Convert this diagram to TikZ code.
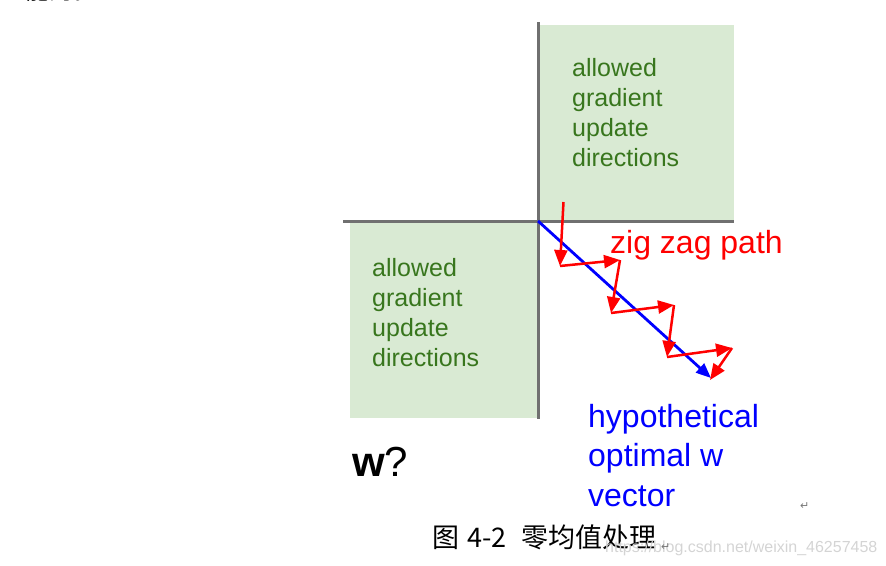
\documentclass[tikz,border=0pt]{standalone}
\usepackage{fontspec}
\setmainfont{Liberation Sans}
\newfontfamily\cjk{Noto Sans CJK SC}
\newfontfamily\dvs{DejaVu Sans}
\usetikzlibrary{arrows.meta}
\definecolor{boxgreen}{RGB}{217,234,211}
\definecolor{txtgreen}{RGB}{56,118,29}
\definecolor{axisgray}{RGB}{112,112,112}
\definecolor{wmgray}{RGB}{212,212,212}
\definecolor{markgray}{RGB}{120,120,120}
\tikzset{
  region/.style={fill=boxgreen, draw=none},
  axisline/.style={draw=axisgray, line width=3pt},
  greentext/.style={text=txtgreen, align=left, inner sep=0pt, anchor=north west, font=\fontsize{25}{30}\selectfont},
  zigarrow/.style={draw=red, line width=2.5pt, -{Triangle[length=16pt,width=13pt]}},
  optarrow/.style={draw=blue, line width=2.8pt, -{Triangle[length=15pt,width=12pt]}},
  retmark/.style={text=markgray, inner sep=0pt, anchor=base west, font=\dvs\fontsize{11}{11}\selectfont}
}
\begin{document}
\begin{tikzpicture}[x=1pt,y=-1pt]
\useasboundingbox (0,0) rectangle (886,565);
% cut-off text at the very top
\begin{scope}
\clip (0,0) rectangle (886,565);
\node[inner sep=0pt, anchor=base west, font=\cjk\fontsize{24}{24}\selectfont] (topfrag) at (25,-0.5) {能的。};
\end{scope}
% green regions
\fill[region] (540,25) rectangle (734,221);
\fill[region] (350,222) rectangle (537,418);
% axes
\coordinate (vtop) at (538,22);
\coordinate (vbot) at (538,419);
\coordinate (hleft) at (343,221);
\coordinate (hright) at (734,221);
\draw[axisline] (vtop) -- (vbot);
\draw[axisline] (hleft) -- (hright);
% texts
\node[greentext] (tr) at (572,58) {allowed\\gradient\\update\\directions};
\node[greentext] (bl) at (372,258) {allowed\\gradient\\update\\directions};
\node[text=red, inner sep=0pt, anchor=base west, font=\fontsize{32}{40}\selectfont] (zz) at (610,253) {zig zag path};
\node[text=blue, inner sep=0pt, anchor=north west, align=left, font=\fontsize{32}{39.5}\selectfont] (hyp) at (588,404) {hypothetical\\optimal w\\vector};
\node[inner sep=0pt, anchor=base west, font=\fontsize{42}{42}\selectfont] (wq) at (352,476) {\textbf{w}?};
% optimal direction
\coordinate (o) at (538,221);
\coordinate (opt) at (711,378);
\draw[optarrow] (o) -- (opt);
% zig zag path
\coordinate (z0) at (563.5,202);
\coordinate (z1) at (560,266);
\coordinate (z2) at (620,260);
\coordinate (z3) at (611,313);
\coordinate (z4) at (674,305);
\coordinate (z5) at (667,357);
\coordinate (z6) at (732,348);
\coordinate (z7) at (710,380);
\draw[zigarrow] (z0) -- (z1);
\draw[zigarrow] (z1) -- (z2);
\draw[zigarrow] (z2) -- (z3);
\draw[zigarrow] (z3) -- (z4);
\draw[zigarrow] (z4) -- (z5);
\draw[zigarrow] (z5) -- (z6);
\draw[zigarrow] (z6) -- (z7);
% caption and marks
\node[inner sep=0pt, anchor=base west, font=\cjk\fontsize{27}{27}\selectfont] (cap) at (432,547) {图\hspace{8pt}4-2\hspace{15pt}零均值处理};
\node[text=wmgray, inner sep=0pt, anchor=base west, font=\fontsize{16}{16}\selectfont] (wm) at (605,552) {https://blog.csdn.net/weixin\_46257458};
\node[retmark] (r1) at (800,509) {↵};
\node[retmark] (r2) at (661,550) {↵};
\end{tikzpicture}
\end{document}
